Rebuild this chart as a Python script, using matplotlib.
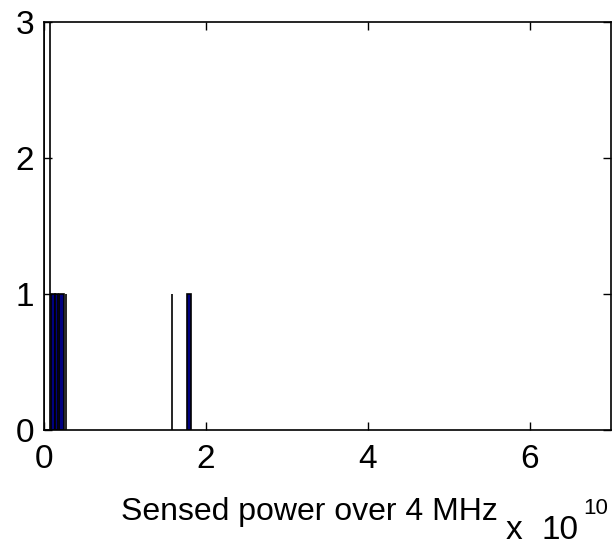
import matplotlib
matplotlib.use("Agg")
import matplotlib.pyplot as plt
from matplotlib.ticker import FuncFormatter

plt.rcParams['font.family'] = ['Liberation Sans', 'DejaVu Sans']

# histogram bars (sensed power, counts)
bar_left = [0.001e10, 0.09e10, 0.13e10, 0.19e10, 0.268e10, 1.578e10, 1.77e10]
bar_width = [0.075e10, 0.04e10, 0.04e10, 0.055e10, 0.006e10, 0.006e10, 0.045e10]
bar_count = [3, 1, 1, 1, 1, 1, 1]
bar_fill = ['white', 'navy', 'navy', 'navy', 'white', 'white', 'navy']

xticks = [0, 2e10, 4e10, 6e10]
yticks = [0, 1, 2, 3]

fig = plt.figure(figsize=(6.14, 5.47), dpi=100)
ax = fig.add_axes([44/614, (547-430)/547, (611-44)/614, (430-22)/547])

ax.bar(bar_left, bar_count, width=bar_width, align='edge', color=bar_fill,
       edgecolor='black', linewidth=1.2)

ax.set_xlim(0, 7e10)
ax.set_ylim(0, 3)
ax.set_xticks(xticks)
ax.set_yticks(yticks)
ax.xaxis.set_major_formatter(FuncFormatter(lambda v, p: '%g' % (v / 1e10)))
ax.tick_params(direction='in', length=6, width=1, labelsize=24, top=True, right=True)
ax.tick_params(axis='x', pad=10)
ax.tick_params(axis='y', pad=7)
for s in ax.spines.values():
    s.set_linewidth(1.2)

ax.set_xlabel('Sensed power over 4 MHz', fontsize=23)
ax.xaxis.set_label_coords((309-44)/567, -0.165)
# offset text "x 10^10", drawn like MATLAB does it
fig.text(506/614, 1 - 539/547, 'x', fontsize=24, ha='left', va='baseline')
fig.text(542/614, 1 - 539/547, '10', fontsize=24, ha='left', va='baseline')
fig.text(583/614, 1 - 514/547, '10', fontsize=16, ha='left', va='baseline')

fig.savefig('out.png', dpi=100)
